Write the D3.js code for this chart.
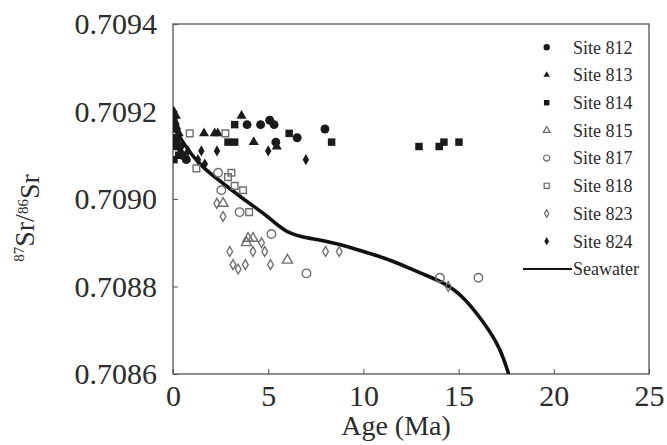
<!DOCTYPE html>
<html><head><meta charset="utf-8">
<script src="https://cdn.jsdelivr.net/npm/d3@7"></script>
<style>body{margin:0;background:#fff}svg{display:block}</style>
</head><body><svg id="c" width="667" height="445"></svg>
<script>
const xTicks = [0,5,10,15,20,25];
const yTicks = [0.7086,0.7088,0.7090,0.7092,0.7094];
const site812 = [[0.1,0.70917],[0.15,0.70913],[0.35,0.70912],[0.5,0.70910],[0.7,0.70909],[3.89,0.70917],[4.6,0.70917],[5.08,0.70918],[5.31,0.70917],[5.4,0.70913],[6.52,0.70914],[7.98,0.70916]];
const site813 = [[0.15,0.70919],[0.3,0.70915],[1.63,0.70915],[2.19,0.70915],[2.35,0.70915],[3.6,0.70919],[4.24,0.70913],[5.45,0.70912]];
const site814 = [[0.05,0.70918],[0.1,0.70916],[0.2,0.70914],[0.1,0.70912],[0.3,0.70910],[0.05,0.70909],[2.89,0.70913],[3.24,0.70917],[3.24,0.70913],[6.1,0.70915],[8.33,0.70913],[12.92,0.70912],[13.98,0.70912],[14.23,0.70913],[15.02,0.70913]];
const site815 = [[2.63,0.70899],[3.86,0.70890],[3.94,0.70891],[4.2,0.70891],[6.01,0.70886]];
const site817 = [[2.37,0.70906],[2.54,0.70902],[3.5,0.70897],[5.17,0.70892],[7.01,0.70883],[14.02,0.70882],[16.04,0.70882]];
const site818 = [[0.88,0.70915],[1.23,0.70907],[2.75,0.70915],[2.89,0.70905],[3.07,0.70906],[3.24,0.70903],[3.68,0.70902],[4.0,0.70897]];
const site823 = [[2.3,0.70899],[2.63,0.70896],[2.98,0.70888],[3.15,0.70885],[3.42,0.70884],[3.8,0.70885],[4.2,0.70888],[4.65,0.70890],[4.82,0.70888],[5.12,0.70885],[8.01,0.70888],[8.73,0.70888],[14.46,0.70880]];
const site824 = [[0.05,0.70920],[0.25,0.70916],[0.4,0.70911],[0.79,0.70911],[1.31,0.70909],[1.49,0.70911],[1.67,0.70908],[2.31,0.70911],[5.0,0.70911],[6.98,0.70909]];
const seawater = [[0,0.70917],[0.5,0.70913],[1,0.70910],[1.6,0.70907],[2.8,0.70903],[4,0.70899],[5,0.70896],[6,0.70892],[7.2,0.70891],[8.5,0.70890],[10,0.70888],[11.5,0.70886],[13,0.70883],[14.2,0.70881],[15.2,0.70878],[16.3,0.70872],[17.2,0.70866],[17.7,0.70859]];
const legendNames = ["Site 812","Site 813","Site 814","Site 815","Site 817","Site 818","Site 823","Site 824"];

const series = [
  {data:site812, sym:d3.symbolCircle, filled:true, size:62, lsize:32},
  {data:site813, sym:d3.symbolTriangle, filled:true, size:44, lsize:18},
  {data:site814, sym:d3.symbolSquare, filled:true, size:56, lsize:30},
  {data:site815, sym:d3.symbolTriangle, filled:false, size:44, lsize:20},
  {data:site817, sym:d3.symbolCircle, filled:false, size:58, lsize:30},
  {data:site818, sym:d3.symbolSquare, filled:false, size:44, lsize:26},
  {data:site823, sym:d3.symbolDiamond, filled:false, size:28, lsize:16},
  {data:site824, sym:d3.symbolDiamond, filled:true, size:36, lsize:20}
];

const FONT = "'Liberation Serif', 'Times New Roman', serif";
const svg = d3.select("#c");
const m = {l:173, r:649, t:24, b:374};
const x = d3.scaleLinear().domain([0,25]).range([m.l,m.r]);
const y = d3.scaleLinear().domain([0.7086,0.7094]).range([m.b,m.t]);
const ink = "#2b2b2b";
function txt(sel, size){ return sel.style("font-family",FONT).style("font-size",size+"px").attr("fill",ink); }

svg.append("clipPath").attr("id","clip").append("rect")
  .attr("x",m.l).attr("y",m.t).attr("width",m.r-m.l).attr("height",m.b-m.t);

svg.append("rect").attr("x",m.l).attr("y",m.t).attr("width",m.r-m.l).attr("height",m.b-m.t)
  .attr("fill","none").attr("stroke","#444").attr("stroke-width",1.2);

const xa = svg.append("g").attr("transform",`translate(0,${m.b})`)
  .call(d3.axisBottom(x).tickValues(xTicks).tickSizeInner(-5).tickSizeOuter(0).tickPadding(13).tickFormat(d3.format("d")));
const ya = svg.append("g").attr("transform",`translate(${m.l},0)`)
  .call(d3.axisLeft(y).tickValues(yTicks).tickSizeInner(-5).tickSizeOuter(0).tickPadding(16).tickFormat(d3.format(".4f")));
[xa,ya].forEach(g=>{
  g.select(".domain").remove();
  g.selectAll(".tick line").attr("stroke","#555");
  txt(g.selectAll(".tick text"), 30);
});
xa.selectAll(".tick text").attr("dy","0.62em");

txt(svg.append("text").attr("x",396).attr("y",435).attr("text-anchor","middle"), 28).text("Age (Ma)");
const yt = txt(svg.append("text").attr("transform","translate(34,218) rotate(-90)").attr("text-anchor","middle"), 28);
yt.append("tspan").style("font-size","15px").attr("dy","-0.7em").text("87");
yt.append("tspan").attr("dy","0.38em").text("Sr/");
yt.append("tspan").style("font-size","15px").attr("dy","-0.38em").text("86");
yt.append("tspan").attr("dy","0.38em").text("Sr");

const plot = svg.append("g").attr("clip-path","url(#clip)");
plot.append("path").datum(seawater)
  .attr("d", d3.line().x(d=>x(d[0])).y(d=>y(d[1])).curve(d3.curveBasis))
  .attr("fill","none").attr("stroke","#111").attr("stroke-width",3.6);

series.forEach(s=>{
  plot.selectAll(null).data(s.data).enter().append("path")
    .attr("transform",d=>`translate(${x(d[0])},${y(d[1])})`)
    .attr("d",d3.symbol().type(s.sym).size(s.size))
    .attr("fill",s.filled?"#1a1a1a":"none")
    .attr("stroke",s.filled?"none":"#707070")
    .attr("stroke-width",1.4);
});

const lg = svg.append("g");
series.forEach((s,i)=>{
  const yy = 47.3 + i*27.7;
  lg.append("path").attr("transform",`translate(546.7,${yy})`)
    .attr("d",d3.symbol().type(s.sym).size(s.lsize))
    .attr("fill",s.filled?"#1a1a1a":"none")
    .attr("stroke",s.filled?"none":"#666").attr("stroke-width",1.2);
  txt(lg.append("text").attr("x",573).attr("y",yy).attr("dy","0.35em"), 18).text(legendNames[i]);
});
const ly = 47.3 + 8*27.7;
lg.append("line").attr("x1",523).attr("x2",572).attr("y1",ly).attr("y2",ly)
  .attr("stroke","#111").attr("stroke-width",2);
txt(lg.append("text").attr("x",573).attr("y",ly).attr("dy","0.35em"), 18).text("Seawater");
</script></body></html>
